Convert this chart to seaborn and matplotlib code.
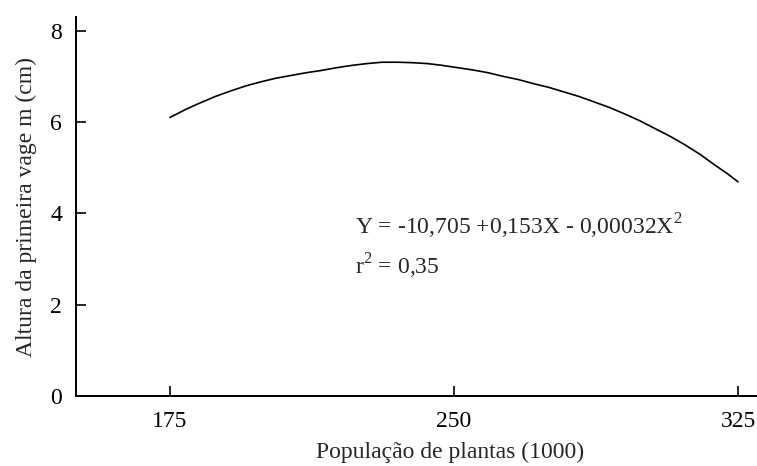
import matplotlib
matplotlib.use("Agg")
import matplotlib.pyplot as plt
import seaborn as sns
import pandas as pd

# Data
populacao = [175, 179, 183, 187, 191, 195, 199, 203, 207, 211, 215, 219, 223, 227, 231, 235, 239,
             243, 247, 251, 255, 259, 263, 267, 271, 275, 279, 283, 287, 291, 295, 299, 303,
             307, 311, 315, 319, 322, 325]
altura = [6.10, 6.27, 6.42, 6.56, 6.68, 6.79, 6.88, 6.96, 7.02, 7.08, 7.13, 7.19, 7.24, 7.28, 7.31, 7.31, 7.30,
          7.28, 7.24, 7.19, 7.14, 7.08, 7.00, 6.93, 6.84, 6.76, 6.66, 6.56, 6.44, 6.32, 6.18, 6.03, 5.86,
          5.69, 5.50, 5.29, 5.05, 4.88, 4.69]
x_ticks = [175, 250, 325]
y_ticks = [0, 2, 4, 6, 8]
equacao = "Y = -10,705 +0,153X - 0,00032X$^2$"
r2_texto = "r$^2$ = 0,35"

sns.set_style("white")
plt.rcParams['font.family'] = ['Liberation Serif', 'DejaVu Serif']
plt.rcParams['mathtext.fontset'] = 'custom'
plt.rcParams['mathtext.rm'] = 'Liberation Serif'

fig = plt.figure(figsize=(7.57, 4.66), dpi=100)
ax = fig.add_axes([0.1004, 0.1502, 0.8996, 0.8133])

df = pd.DataFrame({"x": populacao, "y": altura})
sns.lineplot(data=df, x="x", y="y", ax=ax, color="black", linewidth=1.2)

ax.set_xlim(150.2, 330)
ax.set_ylim(0, 8.3)
ax.set_xticks(x_ticks)
ax.set_yticks(y_ticks)
ax.tick_params(bottom=True, left=True, direction="in", length=7, width=1.2,
               labelsize=17, colors="black")
ax.tick_params(axis="x", pad=11)
ax.tick_params(axis="y", pad=10)
for s in ["top", "right"]:
    ax.spines[s].set_visible(False)
for s in ["left", "bottom"]:
    ax.spines[s].set_color("black")
    ax.spines[s].set_linewidth(1.4)

ax.set_xlabel("População de plantas (1000)", fontsize=17)
ax.set_ylabel("Altura da primeira vage m (cm)", fontsize=17)
ax.xaxis.set_label_coords((450 - 76) / 681, (396 - 452) / 379, transform=ax.transAxes)
ax.xaxis.label.set_va("center")
ax.yaxis.set_label_coords((26 - 76) / 681, 0.5, transform=ax.transAxes)
ax.yaxis.label.set_va("center")

ax.text(223.8, 3.72, equacao, fontsize=17, va="center", ha="left")
ax.text(223.8, 2.85, r2_texto, fontsize=17, va="center", ha="left")

fig.savefig("out.png", dpi=100)
